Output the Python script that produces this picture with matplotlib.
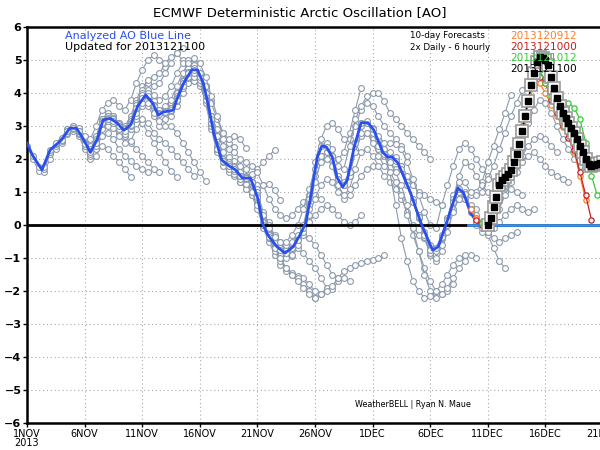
import numpy as np
import matplotlib.pyplot as plt

# analyzed AO (blue line), x = days since 1 Nov 2013
ao_days = [0, 0.5, 1.3, 2.0, 3.0, 3.7, 4.3, 4.9, 5.5, 6.1, 6.6, 7.2, 7.8, 8.4, 9.0,
           9.6, 10.3, 10.9, 11.4, 11.8, 12.7, 13.0, 13.6, 14.3, 14.8, 15.3, 15.7,
           16.2, 16.9, 17.5, 18.1, 18.7, 19.4, 20.0, 20.5, 20.9, 21.7, 22.4, 23.1,
           23.7, 24.2, 24.7, 25.2, 25.6, 26.0, 26.5, 26.9, 27.4, 27.8, 28.4, 29.0,
           29.6, 30.1, 30.9, 31.3, 31.7, 32.2, 33.3, 34.2, 35.2, 35.7, 36.5, 37.4,
           37.9, 38.5, 39.1, 39.7]
ao_vals = [2.48, 2.1, 1.67, 2.27, 2.58, 2.93, 2.93, 2.6, 2.2, 2.6, 3.18, 3.23, 3.1,
           2.87, 3.03, 3.6, 3.94, 3.7, 3.33, 3.42, 3.48, 3.8, 4.3, 4.7, 4.7, 4.3, 3.7,
           2.8, 1.97, 1.8, 1.67, 1.42, 1.42, 0.85, 0.0, -0.3, -0.66, -0.85, -0.66,
           -0.3, 0.06, 1.0, 2.06, 2.4, 2.36, 2.06, 1.45, 1.15, 1.36, 2.36, 3.1, 3.1,
           2.88, 2.2, 2.06, 2.06, 1.88, 0.97, 0.06, -0.76, -0.66, 0.15, 1.12, 0.97,
           0.36, 0.09, -0.06]

# older deterministic runs (grey), 12-hourly values from their start day
old_starts = [0, 0.5, 1.5, 2, 3, 3.5, 4.5, 4.5, 5.5, 6, 7, 8, 9, 10, 11, 12, 13, 14,
              15, 15.5, 16, 17, 18, 19, 19, 20, 21, 22, 23, 24, 25, 26, 27, 28, 29,
              30, 31, 32, 33, 34, 35, 36, 37, 38, 38.5, 39]
old_runs = [
    [2.4, 2.0, 1.65, 1.6, 2.0, 2.3, 2.5, 2.75, 2.85, 2.7, 2.3, 2.0, 2.1, 2.4, 2.3, 2.1, 1.9, 1.7, 1.45],
    [2.1, 1.75, 1.7, 2.15, 2.4, 2.55, 2.8, 2.9, 2.75, 2.4, 2.1, 2.3, 2.7, 2.8, 2.6, 2.3, 2.1, 1.95, 1.8, 1.7, 1.6],
    [1.75, 2.2, 2.45, 2.6, 2.9, 3.0, 2.9, 2.6, 2.4, 2.7, 3.2, 3.4, 3.3, 3.0, 2.7, 2.5, 2.3, 2.1, 1.9, 1.7, 1.6],
    [2.27, 2.5, 2.65, 2.9, 3.0, 2.95, 2.7, 2.6, 3.0, 3.5, 3.7, 3.8, 3.6, 3.5, 3.8, 4.3, 4.7, 5.0, 5.15, 5.0, 4.8],
    [2.58, 2.85, 2.95, 2.8, 2.4, 2.2, 2.55, 3.0, 3.1, 3.0, 2.8, 2.7, 2.9, 3.2, 3.1, 2.8, 2.5, 2.2, 1.9, 1.65, 1.45],
    [2.85, 2.93, 2.85, 2.5, 2.3, 2.6, 3.2, 3.3, 3.3, 3.1, 3.0, 3.3, 3.8, 4.2, 4.3, 4.2, 4.3, 4.6, 4.9, 5.2, 5.36],
    [2.85, 2.5, 2.25, 2.55, 3.15, 3.3, 3.25, 3.1, 3.0, 3.2, 3.7, 4.1, 4.4, 4.5, 4.6, 4.9, 5.1, 5.2, 5.0, 4.8, 4.6],
    [2.85, 2.45, 2.15, 2.4, 2.9, 3.0, 2.95, 2.7, 2.5, 2.55, 2.9, 3.2, 3.1, 2.8, 2.6, 2.5, 2.3, 2.1, 1.9, 1.7, 1.5],
    [2.2, 2.5, 3.05, 3.15, 3.1, 2.9, 2.75, 2.9, 3.3, 3.6, 3.6, 3.3, 3.0, 3.0, 3.0, 2.8, 2.5, 2.2, 1.9, 1.6, 1.33],
    [2.5, 3.1, 3.25, 3.2, 3.05, 2.95, 3.15, 3.65, 4.0, 4.1, 3.95, 3.8, 3.9, 4.2, 4.6, 4.9, 5.0, 4.9, 4.6, 4.2, 3.8],
    [3.2, 3.15, 3.0, 2.9, 3.1, 3.55, 3.9, 3.95, 3.7, 3.5, 3.55, 3.7, 4.0, 4.4, 4.75, 4.85, 4.6, 4.2, 3.7, 3.2, 2.8],
    [3.0, 2.85, 3.0, 3.4, 3.7, 3.7, 3.4, 3.15, 3.2, 3.3, 3.6, 4.0, 4.3, 4.35, 4.2, 3.8, 3.3, 2.9, 2.6, 2.5, 2.35],
    [3.03, 3.55, 3.95, 4.0, 3.75, 3.5, 3.6, 3.8, 4.2, 4.6, 4.9, 5.05, 4.9, 4.5, 3.9, 3.3, 2.8, 2.6, 2.7, 2.6, 2.33],
    [3.85, 3.9, 3.65, 3.4, 3.45, 3.55, 3.9, 4.35, 4.65, 4.75, 4.55, 4.0, 3.3, 2.6, 2.2, 2.05, 1.95, 1.8, 1.7, 1.5, 1.2],
    [3.6, 3.35, 3.4, 3.45, 3.75, 4.15, 4.45, 4.5, 4.3, 3.7, 2.9, 2.2, 1.8, 1.6, 1.5, 1.3, 1.1, 0.9, 0.6, 0.3, 0.1],
    [3.42, 3.5, 3.85, 4.3, 4.6, 4.65, 4.45, 3.9, 3.1, 2.4, 2.0, 1.85, 1.75, 1.55, 1.35, 1.2, 1.1, 1.2, 1.25, 1.05, 0.76],
    [3.8, 4.2, 4.5, 4.6, 4.4, 3.8, 3.0, 2.3, 2.0, 1.9, 1.8, 1.6, 1.45, 1.2, 0.7, 0.2, -0.1, -0.35, -0.6, -0.8, -0.95],
    [4.6, 4.7, 4.5, 3.9, 3.1, 2.3, 2.0, 1.85, 1.75, 1.6, 1.5, 1.55, 1.7, 1.9, 2.1, 2.27],
    [4.6, 3.95, 3.1, 2.3, 1.9, 1.7, 1.55, 1.3, 1.1, 0.9, 0.5, -0.1, -0.5, -0.9, -1.2, -1.4, -1.5, -1.55, -1.6, -1.8, -2.0],
    [4.0, 3.3, 2.7, 2.4, 2.3, 2.2, 2.0, 1.9, 1.8, 1.6, 1.2, 0.8, 0.5, 0.3, 0.2, 0.3, 0.5, 0.7, 0.9, 0.9, 0.8],
    [3.2, 2.3, 1.95, 1.8, 1.65, 1.4, 1.25, 1.0, 0.6, 0.0, -0.4, -0.8, -1.1, -1.3, -1.45, -1.6, -1.8, -2.0, -2.2, -2.1, -1.9],
    [1.95, 1.8, 1.7, 1.5, 1.4, 1.25, 0.8, 0.1, -0.25, -0.5, -0.7, -0.8, -0.75, -0.7, -0.85, -1.1, -1.3, -1.6, -1.9, -1.95, -1.7],
    [1.7, 1.5, 1.45, 1.3, 0.9, 0.1, -0.3, -0.55, -0.7, -0.75, -0.6, -0.4, -0.3, -0.4, -0.6, -0.9, -1.2, -1.5, -1.6, -1.6, -1.7],
    [1.42, 1.3, 1.0, 0.4, 0.0, -0.3, -0.5, -0.6, -0.5, -0.3, -0.1, 0.1, 0.3, 0.5, 0.6, 0.5, 0.3, 0.1, 0.0, 0.1, 0.3],
    [1.42, 1.3, 0.9, 0.3, -0.1, -0.35, -0.5, -0.5, -0.3, 0.0, 0.5, 1.1, 1.7, 2.1, 2.2, 2.1, 2.0, 2.2, 2.8, 3.5, 4.15],
    [0.85, 0.0, -0.4, -0.7, -0.9, -1.0, -0.9, -0.6, -0.2, 0.3, 0.8, 1.2, 1.4, 1.3, 1.0, 0.8, 0.9, 1.2, 1.5, 1.7, 1.8],
    [-0.35, -0.7, -1.0, -1.3, -1.5, -1.7, -1.9, -2.1, -2.2, -2.1, -2.0, -1.85, -1.6, -1.4, -1.3, -1.2, -1.15, -1.1, -1.05, -1.0, -0.9],
    [-0.75, -0.85, -0.7, -0.45, -0.1, 0.6, 1.5, 2.1, 2.2, 2.0, 1.5, 1.3, 1.6, 2.2, 2.7, 2.8, 2.6, 2.3, 2.1, 1.9, 1.7],
    [-0.7, -0.45, 0.0, 0.8, 1.9, 2.6, 3.0, 3.1, 2.9, 2.6, 2.6, 3.0, 3.5, 3.7, 3.6, 3.3, 3.0, 2.8, 2.6, 2.4, 2.1],
    [-0.1, 0.5, 1.3, 1.9, 2.0, 1.8, 1.2, 0.9, 1.1, 1.7, 2.2, 2.3, 2.1, 1.8, 1.5, 1.3, 1.1, 0.8, 0.4, 0.0, -0.3],
    [1.7, 2.4, 2.5, 2.3, 1.8, 1.7, 2.4, 3.2, 3.6, 3.9, 4.0, 4.0, 3.75, 3.4, 3.2, 3.0, 2.8, 2.6, 2.4, 2.2, 2.0],
    [2.36, 2.1, 1.5, 1.2, 1.5, 2.3, 3.0, 3.1, 2.9, 2.5, 2.2, 2.1, 2.0, 1.8, 1.5, 1.2, 1.0, 0.9, 0.8, 0.7, 0.6],
    [1.4, 1.2, 1.5, 2.2, 2.8, 2.8, 2.5, 2.1, 1.8, 1.6, 1.3, 0.9, 0.3, -0.3, -0.8, -1.3, -1.7, -2.0, -2.1, -2.0, -1.8],
    [1.6, 2.5, 3.1, 3.1, 2.8, 2.4, 2.1, 1.9, 1.6, 1.2, 0.6, -0.1, -0.8, -1.5, -2.0, -2.2, -2.1, -1.9, -1.6, -1.3, -1.1],
    [3.1, 3.15, 2.95, 2.6, 2.3, 2.2, 2.05, 1.8, 1.3, 0.8, 0.3, -0.2, -0.6, -0.7, -0.4, 0.0, 0.5, 0.8, 0.8, 0.6, 0.5],
    [2.9, 2.7, 2.5, 2.5, 2.45, 2.3, 1.9, 1.4, 0.9, 0.4, 0.0, -0.1, 0.6, 1.2, 1.8, 2.3, 2.5, 2.3, 2.0, 1.7, 1.5],
    [2.15, 1.6, 0.6, -0.4, -1.1, -1.7, -2.0, -2.2, -2.15, -2.0, -1.8, -1.5, -1.2, -1.0, -0.9, -0.9, -1.0],
    [1.95, 1.7, 1.2, 0.7, 0.2, -0.4, -0.9, -1.1, -0.8, -0.2, 0.4, 0.8, 0.9, 0.9, 1.0, 1.3, 1.9, 2.4, 2.9, 3.4, 3.95],
    [1.2, 0.7, 0.2, -0.35, -0.85, -1.0, -0.6, 0.0, 0.8, 1.5, 1.9, 1.8, 1.5, 1.2, 1.0, 0.8, 0.8, 1.0, 1.1, 1.0, 0.9],
    [0.25, -0.3, -0.75, -0.8, -0.4, 0.2, 0.9, 1.3, 1.3, 1.0, 0.9, 1.0, 1.4, 1.8, 2.3, 2.8, 3.3, 3.7, 4.1, 4.3, 4.2],
    [-0.76, -0.7, -0.3, 0.2, 0.8, 1.0, 0.8, 0.5, 0.3, 0.0, -0.3, -0.7, -1.1, -1.3],
    [-0.35, 0.15, 0.7, 1.1, 1.0, 0.5, 0.2, 0.1, 0.3, 0.6, 0.9, 1.2, 1.5, 1.8, 2.1, 2.4, 2.6, 2.7, 2.6, 2.4, 2.2],
    [0.7, 1.1, 0.95, 0.4, 0.0, -0.2, -0.2, 0.1, 0.5, 0.9, 1.3, 1.6, 1.9, 2.1, 2.2, 2.0, 1.8, 1.6, 1.5, 1.4, 1.3],
    [0.95, 0.45, 0.15, 0.1, 0.3, 0.7, 1.1, 1.5, 1.9, 2.3, 2.7, 3.1, 3.5, 3.8, 3.7, 3.4, 3.0, 2.6, 2.3, 2.0, 1.8],
    [0.4, 0.1, -0.1, -0.2, -0.1, 0.1, 0.3, 0.5, 0.6, 0.5, 0.4, 0.5],
    [0.1, 0.0, -0.2, -0.4, -0.5, -0.4, -0.3, -0.2],
]

# latest four runs, 12-hourly
orange_start = 38.5
orange_vals = [0.5, 0.2, 0.0, 0.0, 0.5, 1.15, 1.45, 1.7, 2.15, 2.9, 3.7, 4.2, 4.3,
               4.0, 3.65, 3.3, 2.97, 2.67, 2.2, 1.5, 0.75]
red_start = 39.0
red_vals = [0.15, 0.0, 0.05, 0.55, 1.2, 1.5, 1.75, 2.2, 3.0, 3.8, 4.4, 4.5, 4.3,
            3.8, 3.4, 3.0, 2.65, 2.27, 1.6, 0.9, 0.15]
green_start = 39.5
green_vals = [0.05, 0.0, 0.5, 1.15, 1.45, 1.7, 2.15, 2.9, 3.8, 4.5, 4.7, 4.3, 3.9,
              3.75, 3.7, 3.7, 3.55, 3.2, 2.5, 1.5, 0.9]
# newest run 2013121100, 6-hourly
black_start = 40.0
black_vals = [0.0, 0.2, 0.55, 0.85, 1.2, 1.35, 1.45, 1.55, 1.68, 1.9, 2.15, 2.45,
              2.85, 3.3, 3.75, 4.25, 4.6, 4.95, 5.1, 5.05, 5.0, 4.85, 4.5, 4.15,
              3.85, 3.6, 3.4, 3.25, 3.1, 2.95, 2.78, 2.6, 2.4, 2.2, 2.0, 1.85, 1.8,
              1.82, 1.85, 1.88, 1.9]

tick_days = [0, 5, 10, 15, 20, 25, 30, 35, 40, 45, 50]
tick_labels = ['1NOV\n2013', '6NOV', '11NOV', '16NOV', '21NOV', '26NOV', '1DEC',
               '6DEC', '11DEC', '16DEC', '21DEC']
run_labels = ['2013120912', '2013121000', '2013121012', '2013121100']
run_colors = ['#ff7f27', '#c81e1e', '#33cc33', 'black']

grey = '#8c9aab'

fig = plt.figure(figsize=(6, 4.5), dpi=100)
ax = fig.add_axes([0.045, 0.06, 0.96, 0.88])

for s, v in zip(old_starts, old_runs):
    x = s + 0.5 * np.arange(len(v))
    ax.plot(x, v, color=grey, lw=0.8, marker='o', ms=4.2, mfc='white',
            mec=grey, mew=0.8, zorder=2)

ax.axhline(0, color='black', lw=2, zorder=3)
ax.plot([38.3, 50], [0, 0], color='#3a8ee6', lw=2, zorder=4)
ax.plot(ao_days, ao_vals, color='#2a4ff0', lw=2, zorder=5)

for s, v, c in [(orange_start, orange_vals, run_colors[0]),
                (red_start, red_vals, run_colors[1]),
                (green_start, green_vals, run_colors[2])]:
    x = s + 0.5 * np.arange(len(v))
    ax.plot(x, v, color=c, lw=0.9, marker='o', ms=3.8, mfc='white', mec=c,
            mew=0.9, zorder=6)

xb = black_start + 0.25 * np.arange(len(black_vals))
ax.plot(xb, black_vals, color='black', lw=1, marker='s', ms=8, mfc='white',
        mec='#999999', mew=1.2, zorder=7)
ax.plot(xb, black_vals, color='black', lw=0, marker='s', ms=4.8, mfc='black',
        mec='black', zorder=8)

ax.set_xlim(0, 50)
ax.set_ylim(-6, 6)
ax.set_xticks(tick_days)
ax.set_xticklabels(tick_labels, fontsize=7, linespacing=0.9)
ax.set_yticks(range(-6, 7))
ax.set_yticklabels([str(i).replace('-', '\u2212') for i in range(-6, 7)],
                   fontsize=8, fontweight='bold')
ax.tick_params(length=3, width=1, pad=1)
ax.grid(True, color='#aaaaaa', ls=(0, (1, 2.5)), lw=0.8)
for sp in ax.spines.values():
    sp.set_linewidth(1.8)

fig.text(0.5, 0.972, 'ECMWF Deterministic Arctic Oscillation [AO]', ha='center',
         va='center', fontsize=9.5)
fig.text(0.108, 0.92, 'Analyzed AO Blue Line', color='#2a4ff0', fontsize=8,
         va='center')
fig.text(0.108, 0.895, 'Updated for 2013121100', color='black', fontsize=8,
         va='center')
fig.text(0.683, 0.92, '10-day Forecasts', fontsize=6.3, va='center')
fig.text(0.683, 0.895, '2x Daily - 6 hourly', fontsize=6.3, va='center')
for i, (lab, c) in enumerate(zip(run_labels, run_colors)):
    fig.text(0.85, 0.92 - i * 0.0245, lab, color=c, fontsize=7.6, va='center')
fig.text(0.592, 0.102, 'WeatherBELL | Ryan N. Maue', fontsize=5.8, va='center')

fig.savefig('out.png', dpi=100)
